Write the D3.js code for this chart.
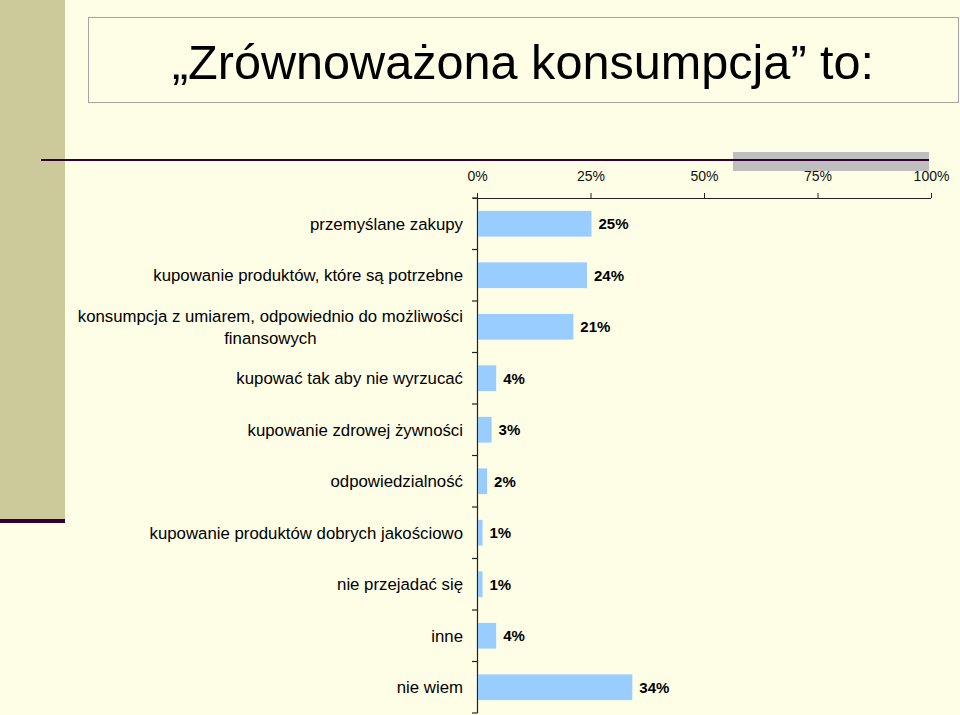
<!DOCTYPE html>
<html>
<head>
<meta charset="utf-8">
<script src="https://cdn.jsdelivr.net/npm/d3@7"></script>
<style>
  html, body { margin: 0; padding: 0; background: #FEFEE6; }
  svg { display: block; font-family: Arial, "Liberation Sans", sans-serif; }
</style>
</head>
<body>
<script>
const title = "„Zrównoważona konsumpcja” to:";
const categories = [
  "przemyślane zakupy",
  "kupowanie produktów, które są potrzebne",
  "konsumpcja z umiarem, odpowiednio do możliwości|finansowych",
  "kupować tak aby nie wyrzucać",
  "kupowanie zdrowej żywności",
  "odpowiedzialność",
  "kupowanie produktów dobrych jakościowo",
  "nie przejadać się",
  "inne",
  "nie wiem"
];
const values = [0.25, 0.24, 0.21, 0.04, 0.03, 0.02, 0.01, 0.01, 0.04, 0.34];
const valueLabels = ["25%", "24%", "21%", "4%", "3%", "2%", "1%", "1%", "4%", "34%"];
const xTicks = [0, 0.25, 0.5, 0.75, 1];

const W = 960, H = 715;
const svg = d3.select("body").append("svg").attr("width", W).attr("height", H);

// background
svg.append("rect").attr("width", W).attr("height", H).attr("fill", "#FEFEE6");
// left decorative band
svg.append("rect").attr("x", 0).attr("y", 0).attr("width", 65).attr("height", 519).attr("fill", "#CCC99A");
svg.append("rect").attr("x", 0).attr("y", 519).attr("width", 65).attr("height", 4).attr("fill", "#330033");

// title box
svg.append("rect").attr("x", 88.5).attr("y", 17.5).attr("width", 870).attr("height", 85)
  .attr("fill", "#FEFEE6").attr("stroke", "#A5A5A0").attr("stroke-width", 1);
svg.append("text").attr("x", 523).attr("y", 79).attr("text-anchor", "middle")
  .attr("font-size", 48.6).attr("fill", "#000").text(title);

// decorative rule + gray block
svg.append("rect").attr("x", 733).attr("y", 152).attr("width", 196).attr("height", 19).attr("fill", "#BFBFBF");
svg.append("line").attr("x1", 41).attr("x2", 929).attr("y1", 160).attr("y2", 160)
  .attr("stroke", "#330033").attr("stroke-width", 2);

// scales
const x = d3.scaleLinear().domain([0, 1]).range([477, 931]);
const y = d3.scaleBand().domain(categories).range([198, 713]).paddingInner(0.5).paddingOuter(0.25);

// x axis (top)
const xAxis = d3.axisTop(x).tickValues(xTicks).tickFormat(d3.format(".0%")).tickSize(5).tickPadding(12);
const gx = svg.append("g").attr("transform", "translate(0,198)").call(xAxis);
gx.select(".domain").attr("stroke", "#222").attr("d", "M473,0.5H931");
gx.selectAll(".tick line").attr("stroke", "#222");
gx.selectAll(".tick text").attr("font-size", 14).attr("fill", "#111").attr("font-family", "Arial, 'Liberation Sans', sans-serif");

// y axis line + boundary ticks
const step = y.step();
const gap = (step - y.bandwidth()) / 2;
svg.append("line").attr("x1", 477.5).attr("x2", 477.5).attr("y1", 198).attr("y2", 713)
  .attr("stroke", "#222").attr("stroke-width", 1.2);
const bounds = categories.map(c => y(c) - gap).concat([y(categories[categories.length - 1]) + y.bandwidth() + gap]);
svg.append("g").selectAll("line").data(bounds).join("line")
  .attr("x1", 472).attr("x2", 477.5).attr("y1", d => d).attr("y2", d => d)
  .attr("stroke", "#222").attr("stroke-width", 1.2);

// bars
svg.append("g").selectAll("rect").data(values).join("rect")
  .attr("x", x(0) + 1)
  .attr("y", (d, i) => y(categories[i]))
  .attr("width", d => x(d) - x(0))
  .attr("height", y.bandwidth())
  .attr("fill", "#99CCFF");

// value labels
svg.append("g").selectAll("text").data(values).join("text")
  .attr("x", d => x(d) + 8)
  .attr("y", (d, i) => y(categories[i]) + y.bandwidth() / 2)
  .attr("dy", "0.38em")
  .attr("font-size", 15).attr("font-weight", "bold").attr("fill", "#000")
  .text((d, i) => valueLabels[i]);

// category labels
const FS = 16.8;
const catG = svg.append("g");
categories.forEach((c, i) => {
  const lines = c.split("|");
  const cy = y(c) + y.bandwidth() / 2;
  const lh = 22;
  if (lines.length === 1) {
    catG.append("text").attr("x", 463).attr("y", cy).attr("dy", "0.36em")
      .attr("text-anchor", "end").attr("font-size", FS).attr("fill", "#000").text(c);
  } else {
    const t = catG.append("text").attr("font-size", FS).attr("fill", "#000");
    const tmp = catG.append("text").attr("font-size", FS).text(lines[0]);
    const w0 = tmp.node().getComputedTextLength();
    tmp.remove();
    const centerX = 463 - w0 / 2;
    lines.forEach((ln, k) => {
      t.append("tspan").attr("x", centerX).attr("text-anchor", "middle")
        .attr("y", cy + (k - (lines.length - 1) / 2) * lh).attr("dy", "0.36em").text(ln);
    });
  }
});
</script>
</body>
</html>
